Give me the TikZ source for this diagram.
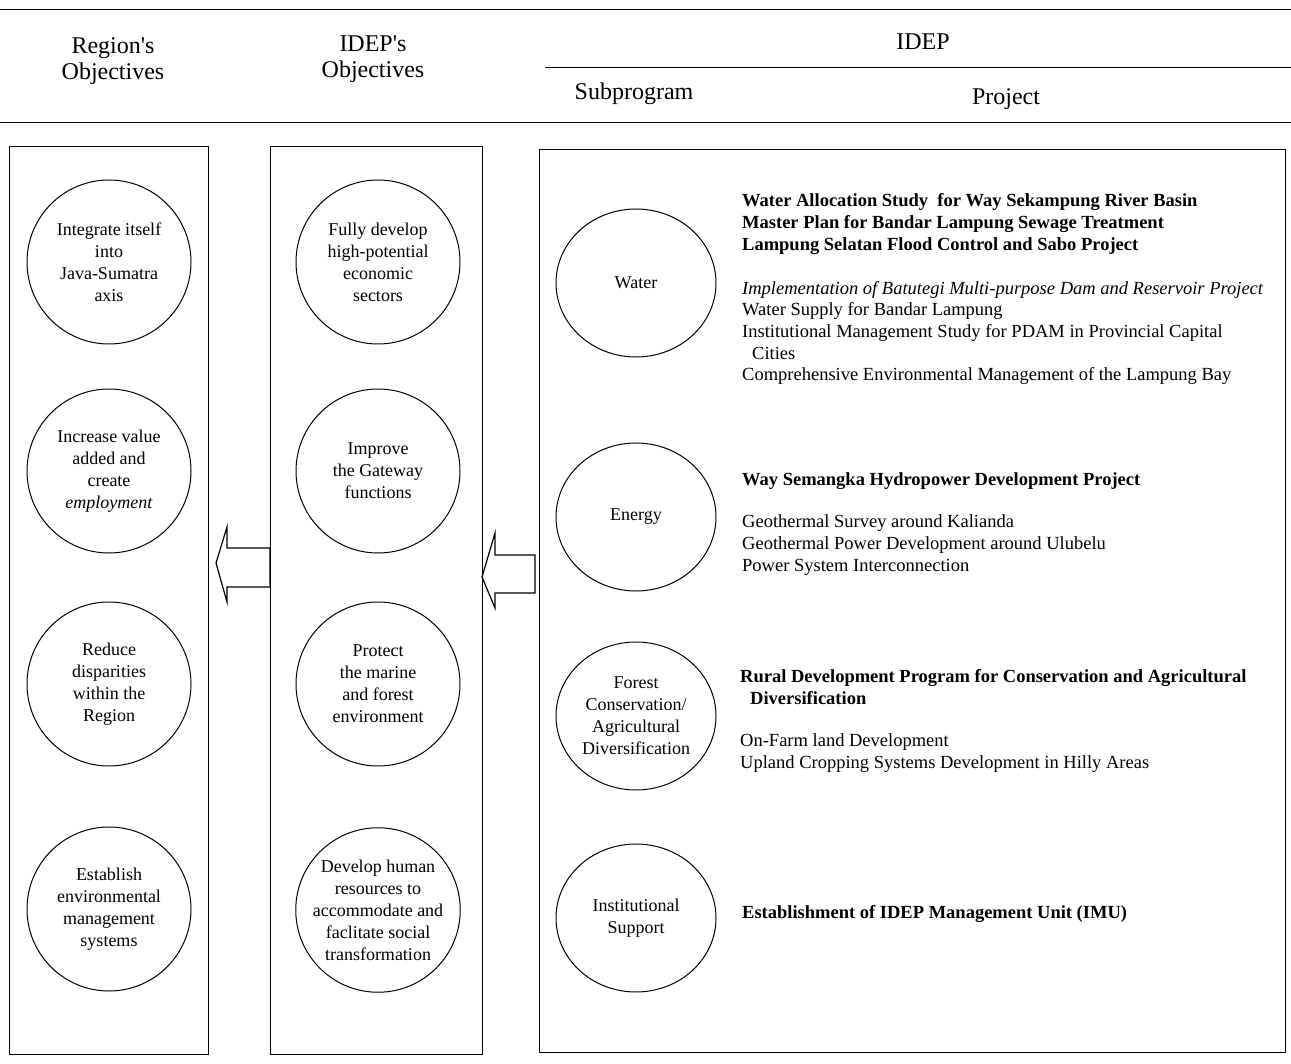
\documentclass[tikz,border=0pt]{standalone}
\usepackage{fontspec}
\setmainfont[Ligatures=TeXOff]{Liberation Serif}
\usetikzlibrary{positioning,shapes.geometric}

\begin{document}
\begin{tikzpicture}[x=1pt,y=-1pt,
    obj/.style={circle,draw,line width=1pt,minimum size=164pt,inner sep=0pt,align=center,font=\fontsize{18}{22}\selectfont},
    sub/.style={ellipse,draw,line width=1pt,minimum width=160pt,minimum height=148pt,inner sep=0pt,align=center,font=\fontsize{18}{22}\selectfont},
    head/.style={align=center,font=\fontsize{24}{26}\selectfont},
    proj/.style={anchor=west,align=left,inner sep=0pt,font=\fontsize{18.5}{21.7}\selectfont},
    frame/.style={draw,line width=1pt},
    rule/.style={line width=1pt}]
  \useasboundingbox (0,0) rectangle (1291,1064);

  % header
  \draw[rule] (0,10) -- (1291,10);
  \draw[rule] (545,68) -- (1291,68);
  \draw[rule] (0,123) -- (1291,123);
  \node[head] (hreg) at (113,61) {Region's\\Objectives};
  \node[head] (hidep) at (373,59) {IDEP's\\Objectives};
  \node[head] (hprog) at (923,42) {IDEP};
  \node[head] (hsub) at (634,94) {Subprogram};
  \node[head] (hproj) at (1006,99) {Project};

  % columns
  \draw[frame] (9,147) rectangle (208,1054);
  \draw[frame] (270,147) rectangle (482,1054);
  \draw[frame] (539,150) rectangle (1285,1052);

  % region's objectives
  \node[obj] (r1) at (109,262) {Integrate itself\\into\\Java-Sumatra\\axis};
  \node[obj] (r2) at (109,471) {Increase value\\added and\\create\\\textit{employment}};
  \node[obj] (r3) at (109,684) {Reduce\\disparities\\within the\\Region};
  \node[obj] (r4) at (109,909) {Establish\\environmental\\management\\systems};

  % IDEP's objectives
  \node[obj] (o1) at (378,262) {Fully develop\\high-potential\\economic\\sectors};
  \node[obj] (o2) at (378,471) {Improve\\the Gateway\\functions};
  \node[obj] (o3) at (378,684) {Protect\\the marine\\and forest\\environment};
  \node[obj] (o4) at (378,910) {Develop human\\resources to\\accommodate and\\faclitate social\\transformation};

  % subprograms
  \node[sub] (water) at (636,283) {Water};
  \node[sub] (energy) at (636,517) {Energy};
  \node[sub] (forest) at (636,716) {Forest\\Conservation/\\Agricultural\\Diversification};
  \node[sub] (inst) at (636,918) {Institutional\\Support};

  % projects
  \node[proj] (wa) at (742,224) {\bfseries Water Allocation Study\ \ for Way Sekampung River Basin\\
    \bfseries Master Plan for Bandar Lampung Sewage Treatment\\
    \bfseries Lampung Selatan Flood Control and Sabo Project};
  \node[proj] (wb) at (742,333) {\itshape Implementation of Batutegi Multi-purpose Dam and Reservoir Project\\
    Water Supply for Bandar Lampung\\
    Institutional Management Study for PDAM in Provincial Capital\\
    \hspace*{10pt}Cities\\
    Comprehensive Environmental Management of the Lampung Bay};
  \node[proj] (ea) at (742,481) {\bfseries Way Semangka Hydropower Development Project};
  \node[proj] (eb) at (742,545) {Geothermal Survey around Kalianda\\
    Geothermal Power Development around Ulubelu\\
    Power System Interconnection};
  \node[proj] (fa) at (740,687) {\bfseries Rural Development Program for Conservation and Agricultural\\
    \hspace*{10pt}\bfseries Diversification};
  \node[proj] (fb) at (740,753) {On-Farm land Development\\
    Upland Cropping Systems Development in Hilly Areas};
  \node[proj] (ia) at (742,914) {\bfseries Establishment of IDEP Management Unit (IMU)};

  % hollow arrows
  \draw[line width=1.2pt] (216,563) -- (227,527) -- (227,548) -- (270,548)
    -- (270,587) -- (227,587) -- (227,602) -- cycle;
  \draw[line width=1.2pt] (482,577) -- (495,533) -- (495,555) -- (535,555)
    -- (535,593) -- (495,593) -- (495,608) -- cycle;
\end{tikzpicture}
\end{document}
